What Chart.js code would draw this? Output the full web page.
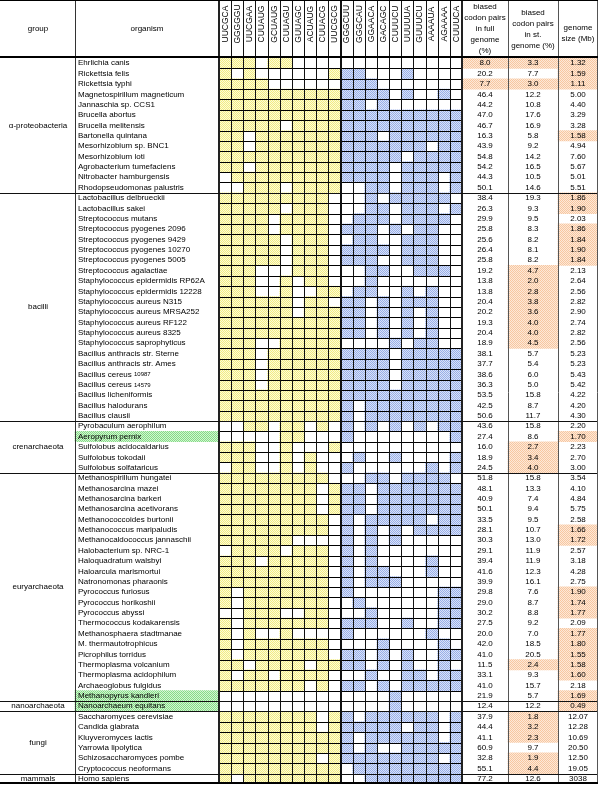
<!DOCTYPE html>
<html>
<head>
<meta charset="utf-8">
<script src="https://cdn.jsdelivr.net/npm/chart.js@4.4.0/dist/chart.umd.min.js"></script>
<style>
  html, body { margin: 0; padding: 0; background: #fff; }
  canvas { display: block; }
</style>
</head>
<body>
<canvas id="chart" width="600" height="786"></canvas>
<script>
// ---- data ----
const groups = ['α-proteobacteria', 'bacilli', 'crenarchaeota', 'euryarchaeota', 'nanoarchaeota', 'fungi', 'mammals'];
const groupSizes = [13, 22, 5, 22, 1, 6, 1];

const organisms = [
  'Ehrlichia canis', 'Rickettsia felis', 'Rickettsia typhi', 'Magnetospirillum magneticum',
  'Jannaschia sp. CCS1', 'Brucella abortus', 'Brucella melitensis', 'Bartonella quintana',
  'Mesorhizobium sp. BNC1', 'Mesorhizobium loti', 'Agrobacterium tumefaciens',
  'Nitrobacter hamburgensis', 'Rhodopseudomonas palustris',
  'Lactobacillus delbrueckii', 'Lactobacillus sakei', 'Streptococcus mutans',
  'Streptococcus pyogenes 2096', 'Streptococcus pyogenes 9429', 'Streptococcus pyogenes 10270',
  'Streptococcus pyogenes 5005', 'Streptococcus agalactiae', 'Staphylococcus epidermidis RP62A',
  'Staphylococcus epidermidis 12228', 'Staphylococcus aureus N315', 'Staphylococcus aureus MRSA252',
  'Staphylococcus aureus RF122', 'Staphylococcus aureus 8325', 'Staphylococcus saprophyticus',
  'Bacillus anthracis str. Sterne', 'Bacillus anthracis str. Ames', 'Bacillus cereus 10987',
  'Bacillus cereus 14579', 'Bacillus licheniformis', 'Bacillus halodurans', 'Bacillus clausii',
  'Pyrobaculum aerophilum', 'Aeropyrum pernix', 'Sulfolobus acidocaldarius', 'Sulfolobus tokodaii',
  'Sulfolobus solfataricus',
  'Methanospirillum hungatei', 'Methanosarcina mazei', 'Methanosarcina barkeri',
  'Methanosarcina acetivorans', 'Methanococcoides burtonii', 'Methanococcus maripaludis',
  'Methanocaldococcus jannaschii', 'Halobacterium sp. NRC-1', 'Haloquadratum walsbyi',
  'Haloarcula marismortui', 'Natronomonas pharaonis', 'Pyrococcus furiosus', 'Pyrococcus horikoshii',
  'Pyrococcus abyssi', 'Thermococcus kodakarensis', 'Methanosphaera stadtmanae',
  'M. thermautotrophicus', 'Picrophilus torridus', 'Thermoplasma volcanium',
  'Thermoplasma acidophilum', 'Archaeoglobus fulgidus', 'Methanopyrus kandleri',
  'Nanoarchaeum equitans',
  'Saccharomyces cerevisiae', 'Candida glabrata', 'Kluyveromyces lactis', 'Yarrowia lipolytica',
  'Schizosaccharomyces pombe', 'Cryptococcus neoformans',
  'Homo sapiens'
];

const codons = ['UUCGCA', 'GGGGGU', 'UUCGAA', 'CUUAUG', 'GCUAUG', 'CUUAGU', 'GUUAGC', 'ACUAUG', 'CUUACG', 'UUCGCG',
                'GGGCUU', 'GGGCAU', 'GGAACA', 'GACAGC', 'CUUUCU', 'UUUUUA', 'GUUUCU', 'AAAAUA', 'AGAAAA', 'CUUUCA'];

// 1 = codon pair biased in that organism (first 10 = yellow block, last 10 = blue block)
const codonHits = [
  '1110110000' + '0000000000',
  '1010000001' + '1100010000',
  '1111000000' + '1110000000',
  '1111111111' + '1111010010',
  '1111111111' + '1101000000',
  '1111111111' + '1111111111',
  '1111101111' + '1111111111',
  '1101111111' + '1110111111',
  '1101111111' + '1111111011',
  '1111111111' + '1111101111',
  '1101111111' + '1111011111',
  '0111111111' + '1111011101',
  '0011101111' + '0011011101',
  '1111111110' + '0010111110',
  '1111101110' + '0011011101',
  '1111011110' + '0111011110',
  '1111011110' + '1110101100',
  '1111101110' + '0110011100',
  '1111101110' + '1111011100',
  '1111101110' + '1110011100',
  '1110001110' + '0011001110',
  '1110010110' + '0010000000',
  '1110010011' + '0110010100',
  '1111110110' + '1101011100',
  '1111110111' + '1101010100',
  '1111111111' + '1101010100',
  '1111111111' + '1101010100',
  '1110011111' + '0000101100',
  '1110111111' + '1111011111',
  '1110111111' + '1111011111',
  '1110111111' + '1111011111',
  '1110111111' + '1111011111',
  '1111111111' + '1111111111',
  '1111111111' + '1011111111',
  '1111111111' + '1011111111',
  '0011011010' + '1010101011',
  '0000011000' + '1000000001',
  '1110010001' + '0000000000',
  '1110010100' + '0100100001',
  '0110010100' + '1000000101',
  '1111111110' + '0011011110',
  '1111111101' + '1101111111',
  '1111111101' + '1101111111',
  '1111111101' + '1101111111',
  '1111111110' + '1011111011',
  '1111111110' + '1010101111',
  '1111110000' + '1010100000',
  '0111101110' + '1010000000',
  '1110111110' + '1010000100',
  '1111111110' + '1011000100',
  '1111111110' + '1011100000',
  '1011111110' + '1000000011',
  '1011111110' + '0100000011',
  '0011100110' + '0010000011',
  '1011111110' + '1110010011',
  '1010010000' + '1000000100',
  '1011111110' + '0001000010',
  '1011111110' + '1101010011',
  '1101111011' + '1101010010',
  '1011011110' + '0010011011',
  '1111111010' + '1101011111',
  '0000000000' + '0000100000',
  '0000000000' + '0000100000',
  '1111111101' + '1011111101',
  '1111111101' + '1111101101',
  '1111111111' + '1011111101',
  '1111111111' + '1010011111',
  '1111111101' + '1111111101',
  '1111111111' + '0111111111',
  '1011111111' + '0011111111'
];

const fullGenome = [8.0, 20.2, 7.7, 46.4, 44.2, 47.0, 46.7, 16.3, 43.9, 54.8, 54.2, 44.3, 50.1,
  38.4, 26.3, 29.9, 25.8, 25.6, 26.4, 25.8, 19.2, 13.8, 13.8, 20.4, 20.2, 19.3, 20.4, 18.9,
  38.1, 37.7, 38.6, 36.3, 53.5, 42.5, 50.6,
  43.6, 27.4, 16.0, 18.9, 24.5,
  51.8, 48.1, 40.9, 50.1, 33.5, 28.1, 30.3, 29.1, 39.4, 41.6, 39.9, 29.8, 29.0, 30.2, 27.5,
  20.0, 42.0, 41.0, 11.5, 33.1, 41.0, 21.9,
  12.4,
  37.9, 44.4, 41.1, 60.9, 32.8, 55.1,
  77.2];
const stGenome = [3.3, 7.7, 3.0, 12.2, 10.8, 17.6, 16.9, 5.8, 9.2, 14.2, 16.5, 10.5, 14.6,
  19.3, 9.3, 9.5, 8.3, 8.2, 8.1, 8.2, 4.7, 2.0, 2.8, 3.8, 3.6, 4.0, 4.0, 4.5,
  5.7, 5.4, 6.0, 5.0, 15.8, 8.7, 11.7,
  15.8, 8.6, 2.7, 3.4, 4.0,
  15.8, 13.3, 7.4, 9.4, 9.5, 10.7, 13.0, 11.9, 11.9, 12.3, 16.1, 7.6, 8.7, 8.8, 9.2,
  7.0, 18.5, 20.5, 2.4, 9.3, 15.7, 5.7,
  12.2,
  1.8, 3.2, 2.3, 9.7, 1.9, 4.4,
  12.6];
const genomeSize = [1.32, 1.59, 1.11, 5.00, 4.40, 3.29, 3.28, 1.58, 4.94, 7.60, 5.67, 5.01, 5.51,
  1.86, 1.90, 2.03, 1.86, 1.84, 1.90, 1.84, 2.13, 2.64, 2.56, 2.82, 2.90, 2.74, 2.82, 2.56,
  5.23, 5.23, 5.43, 5.42, 4.22, 4.20, 4.30,
  2.20, 1.70, 2.23, 2.70, 3.00,
  3.54, 4.10, 4.84, 5.75, 2.58, 1.66, 1.72, 2.57, 3.18, 4.28, 2.75, 1.90, 1.74, 1.77, 2.09,
  1.77, 1.80, 1.55, 1.58, 1.60, 2.18, 1.69,
  0.49,
  12.07, 12.28, 10.69, 20.50, 12.50, 19.05,
  3038];

// highlighted cells (row indexes)
const markFull = [0, 2];
const markSt = [0, 2, 20, 21, 22, 23, 24, 25, 26, 27, 37, 38, 39, 58, 63, 64, 65, 67, 68];
const markSize = [0, 1, 2, 7, 13, 14, 16, 17, 18, 19, 36, 45, 46, 51, 52, 53, 55, 56, 57, 58, 59, 61, 62];
const markOrganism = [36, 61, 62];

// ---- layout ----
const colW = { group: 75, organism: 144, codon: 12.15, full: 46, st: 50, size: 39, margin: 3 };
const xOrg = colW.group;
const xCodon = xOrg + colW.organism;
const xFull = xCodon + codons.length * colW.codon;
const xSt = xFull + colW.full;
const xSize = xSt + colW.st;
const xEnd = xSize + colW.size;
const totalW = xEnd + colW.margin;
const headerH = 58;
const FONT = '"Liberation Sans", Arial, sans-serif';

const ctx0 = document.getElementById('chart').getContext('2d');
function pattern(dark, light) {
  const p = document.createElement('canvas');
  p.width = p.height = 2;
  const g = p.getContext('2d');
  g.fillStyle = light; g.fillRect(0, 0, 2, 2);
  g.fillStyle = dark;
  g.fillRect(0, 0, 1, 1); g.fillRect(1, 1, 1, 1);
  return ctx0.createPattern(p, 'repeat');
}
const yellowPat = pattern('#f2ec84', '#fdfbd6');
const bluePat = pattern('#9aafe8', '#d8e2f8');
const orangePat = pattern('#f7c7a0', '#fde8d8');
const greenPat = pattern('#86dc86', '#d2f4d2');

const rowSpan = (marks, a, b) => organisms.map((_, i) => marks.includes(i) ? [a, b] : null);

const datasets = codons.map((c, j) => ({
  label: c,
  data: codonHits.map(r => r[j] === '1' ? [xCodon + j * colW.codon, xCodon + (j + 1) * colW.codon] : null),
  backgroundColor: j < 10 ? yellowPat : bluePat
}));
datasets.push({ label: 'full', data: rowSpan(markFull, xFull, xSt), backgroundColor: orangePat });
datasets.push({ label: 'st', data: rowSpan(markSt, xSt, xSize), backgroundColor: orangePat });
datasets.push({ label: 'size', data: rowSpan(markSize, xSize, xEnd), backgroundColor: orangePat });
datasets.push({ label: 'organism', data: rowSpan(markOrganism, xOrg, xCodon), backgroundColor: greenPat });

const tablePlugin = {
  id: 'table',
  afterDatasetsDraw(chart) {
    const { ctx, chartArea, scales: { x, y } } = chart;
    const rowH = (chartArea.bottom - chartArea.top) / organisms.length;
    const rowTop = i => Math.round(y.getPixelForValue(i) - rowH / 2);
    const px = v => Math.round(x.getPixelForValue(v));
    const bottom = Math.round(chartArea.bottom);

    ctx.save();
    const hline = (x1, x2, yy, w, col) => {
      ctx.strokeStyle = col; ctx.lineWidth = w;
      const o = w % 2 ? 0.5 : 0;
      ctx.beginPath(); ctx.moveTo(x1, yy + o); ctx.lineTo(x2, yy + o); ctx.stroke();
    };
    const vline = (xx, y1, y2, w, col) => {
      ctx.strokeStyle = col; ctx.lineWidth = w;
      const o = w % 2 ? 0.5 : 0;
      ctx.beginPath(); ctx.moveTo(xx + o, y1); ctx.lineTo(xx + o, y2); ctx.stroke();
    };

    // codon grid
    for (let i = 1; i < organisms.length; i++) hline(px(xCodon), px(xFull), rowTop(i), 1, '#000');
    for (let j = 1; j < codons.length; j++) {
      vline(px(xCodon + j * colW.codon), 1, bottom, j === 10 ? 2 : 1, '#111');
    }
    vline(px(xCodon), 1, bottom, 2, '#222');
    vline(px(xFull), 1, bottom, 2, '#222');
    vline(px(xOrg), 1, bottom, 1, '#333');
    vline(px(xSt), 1, bottom, 1, '#555');
    vline(px(xSize), 1, bottom, 1, '#555');
    vline(px(xEnd), 1, bottom, 1, '#555');

    // group separators
    let start = 0;
    groupSizes.forEach((n, g) => {
      if (g > 0) hline(0, px(xEnd), rowTop(start), 1, '#111');
      start += n;
    });
    hline(0, px(xEnd) + 1, 0, 2, '#000');
    hline(0, px(xEnd) + 1, headerH - 1, 2, '#000');
    hline(0, px(xEnd) + 1, bottom - 1, 2, '#000');

    // text
    ctx.fillStyle = '#000';
    ctx.textBaseline = 'middle';
    ctx.font = '8px ' + FONT;
    ctx.textAlign = 'center';
    ctx.fillText('group', px(xOrg / 2), 29);
    ctx.fillText('organism', px((xOrg + xCodon) / 2), 29);
    const block = (lines, cx, y0) => lines.forEach((t, k) => ctx.fillText(t, cx, y0 + k * 11));
    block(['biased', 'codon pairs', 'in full', 'genome', '(%)'], px((xFull + xSt) / 2), 7);
    block(['biased', 'codon pairs', 'in st.', 'genome (%)'], px((xSt + xSize) / 2), 13);
    block(['genome', 'size (Mb)'], px((xSize + xEnd) / 2), 28);

    ctx.font = '8.5px ' + FONT;
    codons.forEach((c, j) => {
      ctx.save();
      ctx.translate(x.getPixelForValue(xCodon + (j + 0.5) * colW.codon), 24);
      ctx.rotate(-Math.PI / 2);
      ctx.fillText(c, 0, 0.5);
      ctx.restore();
    });
    ctx.font = '8px ' + FONT;

    // group labels
    start = 0;
    groupSizes.forEach((n, g) => {
      const cy = (y.getPixelForValue(start) + y.getPixelForValue(start + n - 1)) / 2;
      ctx.fillText(groups[g], px(xOrg / 2), cy);
      start += n;
    });

    organisms.forEach((name, i) => {
      const cy = y.getPixelForValue(i);
      ctx.textAlign = 'left';
      const m = name.match(/^(Bacillus cereus) (\d+)$/);
      if (m) {
        ctx.fillText(m[1] + ' ', px(xOrg) + 3, cy);
        const w = ctx.measureText(m[1] + ' ').width;
        ctx.font = '6px ' + FONT;
        ctx.fillText(m[2], px(xOrg) + 3 + w, cy + 0.5);
        ctx.font = '8px ' + FONT;
      } else {
        ctx.fillText(name, px(xOrg) + 3, cy);
      }
      ctx.textAlign = 'center';
      ctx.fillText(fullGenome[i].toFixed(1), px((xFull + xSt) / 2), cy);
      ctx.fillText(stGenome[i].toFixed(1), px((xSt + xSize) / 2), cy);
      const s = genomeSize[i];
      ctx.fillText(s >= 1000 ? String(s) : s.toFixed(2), px((xSize + xEnd) / 2), cy);
    });
    ctx.restore();
  }
};

new Chart(ctx0, {
  type: 'bar',
  data: { labels: organisms, datasets },
  options: {
    indexAxis: 'y',
    responsive: false,
    animation: false,
    layout: { padding: { top: headerH, bottom: 2, left: 0, right: 0 } },
    datasets: { bar: { grouped: false, barPercentage: 1, categoryPercentage: 1, borderWidth: 0 } },
    scales: {
      x: { type: 'linear', min: 0, max: totalW, display: false },
      y: { type: 'category', display: false }
    },
    plugins: { legend: { display: false }, tooltip: { enabled: false } }
  },
  plugins: [tablePlugin]
});
</script>
</body>
</html>
